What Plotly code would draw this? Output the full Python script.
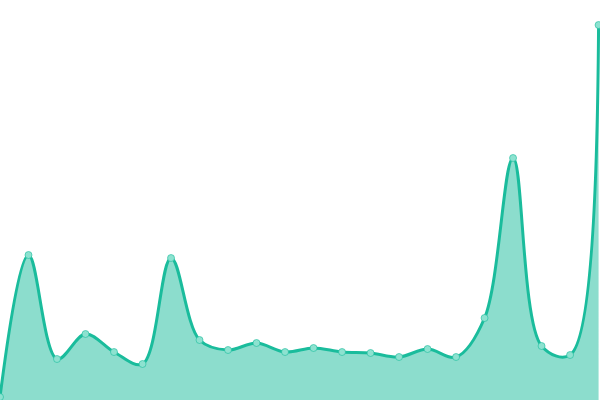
import plotly.graph_objects as go

# point index along the x axis, and value for each point
x_idx = list(range(22))
values = [3, 145, 41, 66, 48, 36, 142, 60, 50, 57, 48, 52, 48, 47, 43, 51, 43, 82, 242, 54, 45, 375]

line_color = "#1abc9c"
fill_color = "rgba(26,188,156,0.5)"

fig = go.Figure()

fig.add_trace(
    go.Scatter(
        x=x_idx,
        y=values,
        mode="lines+markers",
        fill="tozeroy",
        fillcolor=fill_color,
        line=dict(color=line_color, width=3, shape="spline", smoothing=1),
        marker=dict(size=7, color="#8de2d0", line=dict(color="rgba(26,188,156,0.6)", width=1)),
        cliponaxis=False,
        hoverinfo="skip",
    )
)

fig.update_xaxes(visible=False, range=[0, 21.05])
fig.update_yaxes(visible=False, range=[0, 400])

fig.update_layout(
    width=600,
    height=400,
    margin=dict(l=0, r=0, t=0, b=0),
    plot_bgcolor="white",
    paper_bgcolor="white",
    showlegend=False,
)

# drop the default page margin so the chart sits flush in the window
fig.write_html(
    "out.html",
    config={"displayModeBar": False},
    post_script="document.body.style.margin='0';document.body.style.overflow='hidden';",
)
